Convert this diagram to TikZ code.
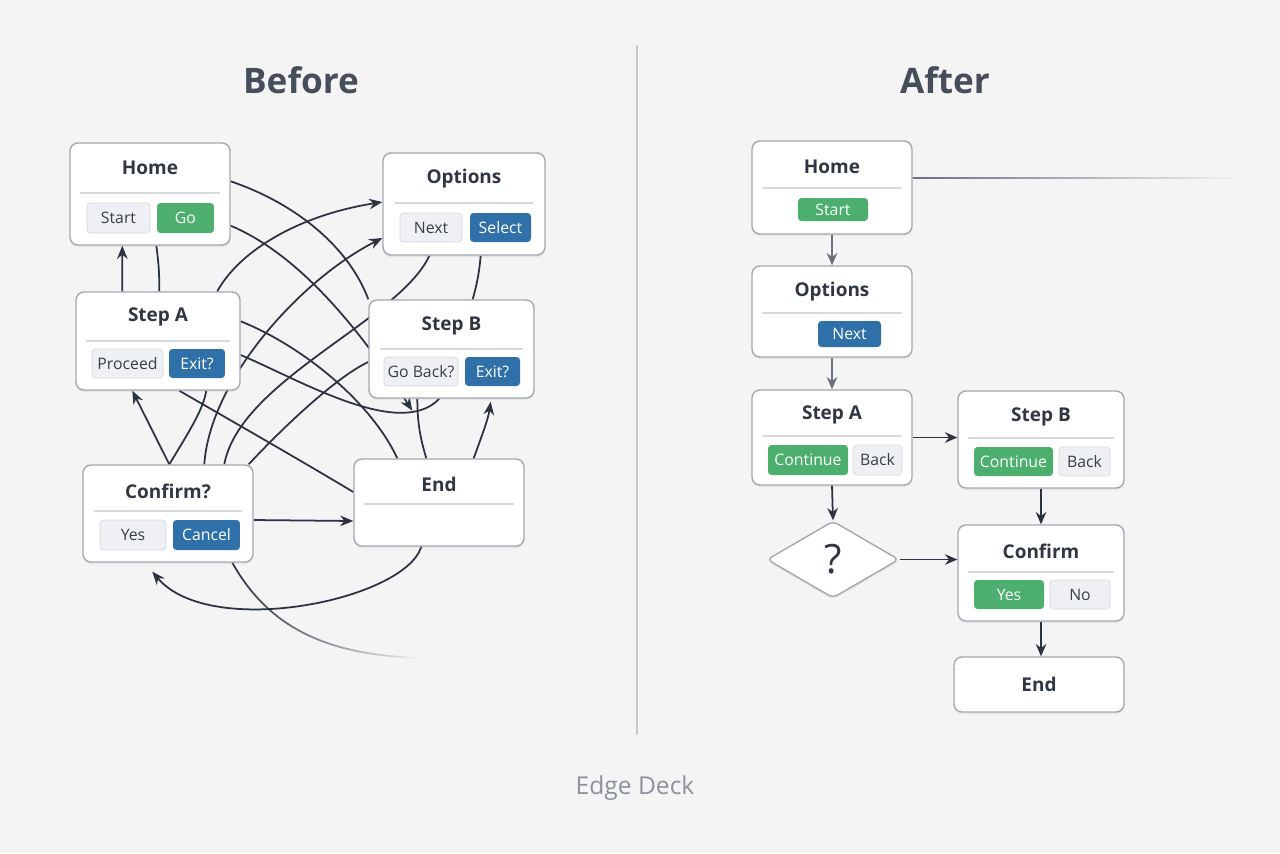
\documentclass[tikz,border=0pt]{standalone}
\usepackage{fontspec}
\setmainfont{Open Sans}
\usepackage{xcolor}
\usetikzlibrary{arrows.meta,shapes.geometric,fadings,shadows}

\definecolor{bgcol}{HTML}{F4F4F4}
\definecolor{edgecol}{HTML}{2B3340}
\definecolor{cardline}{HTML}{A3A9B1}
\definecolor{sepcol}{HTML}{D6D9DD}
\definecolor{btnfill}{HTML}{EEF0F3}
\definecolor{btnline}{HTML}{D5D8DD}
\definecolor{btntext}{HTML}{3A4048}
\definecolor{okgreen}{HTML}{4DAF6D}
\definecolor{selblue}{HTML}{2F70A8}
\definecolor{titlecol}{HTML}{2F3742}
\definecolor{headcol}{HTML}{454E5A}
\definecolor{divcol}{HTML}{C6C9CE}
\definecolor{capcol}{HTML}{8A929C}
\definecolor{flowgray}{HTML}{68707C}

\pgfdeclarelayer{backdrop}
\pgfdeclarelayer{edges}
\pgfsetlayers{backdrop,edges,main}

\tikzset{
  card/.style={draw=cardline, fill=white, line width=0.8pt, rounded corners=4.5pt,
    drop shadow={opacity=0.12, shadow xshift=0pt, shadow yshift=-1.2pt}},
  ctitle/.style={text=titlecol, font=\fontsize{10.8}{12}\selectfont\bfseries, inner sep=0pt},
  sepline/.style={draw=sepcol, line width=0.6pt},
  btn/.style={inner sep=0pt, rounded corners=2pt, font=\fontsize{9}{10}\selectfont},
  btngray/.style={btn, draw=btnline, fill=btnfill, text=btntext},
  btngreen/.style={btn, fill=okgreen, text=white},
  btnblue/.style={btn, fill=selblue, text=white},
  tangle/.style={draw=edgecol, line width=1pt},
  tangarrow/.style={tangle, -{Stealth[length=7.5pt,width=6pt]}},
  flow/.style={draw=edgecol, line width=1pt, -{Stealth[length=7pt,width=6pt]}},
  flowlight/.style={flow, draw=flowgray}
}

\begin{document}
\begin{tikzpicture}[x=0.02cm, y=-0.02cm]
\useasboundingbox (0,0) rectangle (1280,853);
\begin{pgfonlayer}{backdrop}
\fill[bgcol] (0,0) rectangle (1280,853);
\end{pgfonlayer}

% headings and divider
\node[text=headcol, font=\fontsize{20}{24}\selectfont\bfseries] (before) at (301,80) {Before};
\node[text=headcol, font=\fontsize{20}{24}\selectfont\bfseries] (after) at (945,80) {After};
\draw[divcol, line width=0.8pt] (637,45) -- (637,735);
\node[text=capcol, font=\fontsize{14}{16}\selectfont] (caption) at (635,788) {Edge Deck};

% ---- before: cards
\node[card, minimum width=3.2cm, minimum height=2.04cm] (bhome) at (150,194) {};
\node[ctitle] (bhome-t) at (150,168) {Home};
\draw[sepline] (80,193) -- (220,193);
\node[btngray, minimum width=1.26cm, minimum height=0.6cm] (bhome-start) at (118.5,218) {Start};
\node[btngreen, minimum width=1.14cm, minimum height=0.6cm] (bhome-go) at (185.5,218) {Go};

\node[card, minimum width=3.24cm, minimum height=2.04cm] (bopt) at (464,204) {};
\node[ctitle] (bopt-t) at (464,179) {Options};
\draw[sepline] (395,203) -- (533,203);
\node[btngray, minimum width=1.24cm, minimum height=0.58cm] (bopt-next) at (431,227.5) {Next};
\node[btnblue, minimum width=1.22cm, minimum height=0.58cm] (bopt-sel) at (500.5,227.5) {Select};

\node[card, minimum width=3.28cm, minimum height=1.96cm] (bsa) at (158,341) {};
\node[ctitle] (bsa-t) at (158,317) {Step A};
\draw[sepline] (86,341) -- (230,341);
\node[btngray, minimum width=1.42cm, minimum height=0.58cm] (bsa-proc) at (127.5,363.5) {Proceed};
\node[btnblue, minimum width=1.12cm, minimum height=0.58cm] (bsa-exit) at (197,363.5) {Exit?};

\node[card, minimum width=3.3cm, minimum height=1.96cm] (bsb) at (451.5,349) {};
\node[ctitle] (bsb-t) at (451.5,326) {Step B};
\draw[sepline] (380,349) -- (523,349);
\node[btngray, minimum width=1.48cm, minimum height=0.58cm] (bsb-back) at (421,371.5) {Go Back?};
\node[btnblue, minimum width=1.1cm, minimum height=0.58cm] (bsb-exit) at (492.5,371.5) {Exit?};

\node[card, minimum width=3.4cm, minimum height=1.94cm] (bconf) at (168,513.5) {};
\node[ctitle] (bconf-t) at (168,491) {Confirm?};
\draw[sepline] (94,511) -- (242,511);
\node[btngray, minimum width=1.32cm, minimum height=0.6cm] (bconf-yes) at (133,535) {Yes};
\node[btnblue, minimum width=1.34cm, minimum height=0.6cm] (bconf-cancel) at (206.5,535) {Cancel};

\node[card, minimum width=3.4cm, minimum height=1.74cm] (bend) at (439,502.5) {};
\node[ctitle] (bend-t) at (439,484) {End};
\draw[sepline] (364,504) -- (514,504);

% ---- before: tangled edges
\coordinate (fadeend) at (420,658);
\begin{pgfonlayer}{edges}
\draw[tangarrow] ([xshift=0.94cm]bsa.north west) -- ([xshift=1.06cm]bhome.south west);
\draw[tangle] ([xshift=1.74cm]bhome.south west) to[bend left=4] ([xshift=1.68cm]bsa.north west);
\draw[tangle] ([yshift=-0.78cm]bhome.north east) .. controls (300,205) and (350,250) .. (bsb.north west);
\draw[tangarrow] ([yshift=0.4cm]bhome.south east) .. controls (300,255) and (360,330) .. ([xshift=0.88cm,yshift=-0.24cm]bsb.south west);
\draw[tangle] ([yshift=-0.28cm]bsa.east) .. controls (300,380) and (400,440) .. ([xshift=1.42cm]bsb.south west);
\draw[tangle] ([yshift=-0.6cm]bsa.north east) .. controls (300,345) and (370,400) .. ([xshift=0.88cm]bend.north west);
\draw[tangle] ([xshift=1.46cm]bend.north west) to[bend left=8] ([xshift=0.98cm]bsb.south west);
\draw[tangarrow] ([xshift=-1.02cm]bend.north east) .. controls (482,435) and (488,420) .. ([xshift=-0.88cm,yshift=-0.06cm]bsb.south east);
\draw[tangarrow] ([xshift=1.74cm]bconf.north west) -- ([xshift=1.14cm]bsa.south west);
\draw[tangle] ([xshift=1.74cm]bconf.north west) .. controls (190,430) and (203,410) .. ([xshift=2.62cm]bsa.south west);
\draw[tangarrow] ([xshift=2.44cm]bconf.north west) .. controls (210,380) and (300,280) .. ([yshift=-0.68cm]bopt.west);
\draw[tangle] ([xshift=2.84cm]bconf.north west) .. controls (240,380) and (400,320) .. ([xshift=0.94cm]bopt.south west);
\draw[tangle] ([xshift=-0.1cm]bconf.north east) .. controls (290,420) and (340,375) .. ([yshift=-0.26cm]bsb.west);
\draw[tangarrow] ([xshift=2.84cm]bsa.north west) .. controls (240,250) and (300,215) .. ([yshift=0.04cm]bopt.west);
\draw[tangle] ([xshift=-1.3cm]bopt.south east) to[bend left=5] ([xshift=-1.24cm]bsb.north east);
\draw[tangle] ([xshift=2.08cm]bsa.south west) .. controls (230,420) and (300,460) .. ([yshift=0.21cm]bend.west);
\draw[tangarrow] ([yshift=-0.13cm]bconf.east) -- ([yshift=-0.37cm]bend.west);
\draw[tangarrow] ([xshift=1.36cm]bend.south west) .. controls (405,600) and (210,640) .. ([xshift=1.4cm,yshift=-0.18cm]bconf.south west);
\draw[tangle, path fading=east] ([xshift=3cm]bconf.south west) .. controls (270,630) and (330,655) .. (fadeend);
\end{pgfonlayer}

% ---- after: cards
\node[card, minimum width=3.2cm, minimum height=1.86cm] (ahome) at (832,187.5) {};
\node[ctitle] (ahome-t) at (832,167) {Home};
\draw[sepline] (762,188) -- (902,188);
\node[btngreen, minimum width=1.4cm, minimum height=0.46cm] (ahome-start) at (833,209.5) {Start};

\node[card, minimum width=3.2cm, minimum height=1.82cm] (aopt) at (832,311.5) {};
\node[ctitle] (aopt-t) at (832,292) {Options};
\draw[sepline] (762,313) -- (902,313);
\node[btnblue, minimum width=1.26cm, minimum height=0.52cm] (aopt-next) at (849.5,334) {Next};

\node[card, minimum width=3.2cm, minimum height=1.9cm] (asa) at (832,437.5) {};
\node[ctitle] (asa-t) at (832,415) {Step A};
\draw[sepline] (762,436) -- (902,436);
\node[btngreen, minimum width=1.6cm, minimum height=0.6cm] (asa-cont) at (808,460) {Continue};
\node[btngray, minimum width=0.98cm, minimum height=0.6cm] (asa-back) at (877.5,460) {Back};

\node[card, minimum width=3.32cm, minimum height=1.94cm] (asb) at (1041,439.5) {};
\node[ctitle] (asb-t) at (1041,417) {Step B};
\draw[sepline] (968,438) -- (1114,438);
\node[btngreen, minimum width=1.58cm, minimum height=0.58cm] (asb-cont) at (1013.5,461.5) {Continue};
\node[btngray, minimum width=1.02cm, minimum height=0.58cm] (asb-back) at (1084.5,461.5) {Back};

\node[diamond, draw=cardline, fill=white, line width=0.8pt, rounded corners=3pt,
  minimum width=2.64cm, minimum height=1.54cm, inner sep=0pt, text=titlecol,
  font=\fontsize{23}{24}\selectfont,
  drop shadow={opacity=0.12, shadow xshift=0pt, shadow yshift=-1.2pt}] (aq) at (833,559.5) {?};

\node[card, minimum width=3.32cm, minimum height=1.92cm] (aconf) at (1041,573) {};
\node[ctitle] (aconf-t) at (1041,551) {Confirm};
\draw[sepline] (968,572) -- (1114,572);
\node[btngreen, minimum width=1.4cm, minimum height=0.58cm] (aconf-yes) at (1009,594.5) {Yes};
\node[btngray, minimum width=1.2cm, minimum height=0.58cm] (aconf-no) at (1080,594.5) {No};

\node[card, minimum width=3.4cm, minimum height=1.1cm] (aend) at (1039,684.5) {};
\node[ctitle] (aend-t) at (1039,684) {End};

% ---- after: flow
\coordinate (homefade) at (1240,178);
\begin{pgfonlayer}{edges}
\draw[line width=1pt, draw=flowgray, path fading=east] ([yshift=0.19cm]ahome.east) -- (homefade);
\end{pgfonlayer}
\draw[flowlight] (ahome.south) -- (aopt.north);
\draw[flowlight] (aopt.south) -- (asa.north);
\draw[flow] (asa.east) -- (asa.east -| asb.west);
\draw[flow] (asa.south) -- (aq.north);
\draw[flow] (asb.south) -- (aconf.north);
\draw[flow] (aq.east) -- (aq.east -| aconf.west);
\draw[flow] (aconf.south) -- (aconf.south |- aend.north);
\end{tikzpicture}
\end{document}
